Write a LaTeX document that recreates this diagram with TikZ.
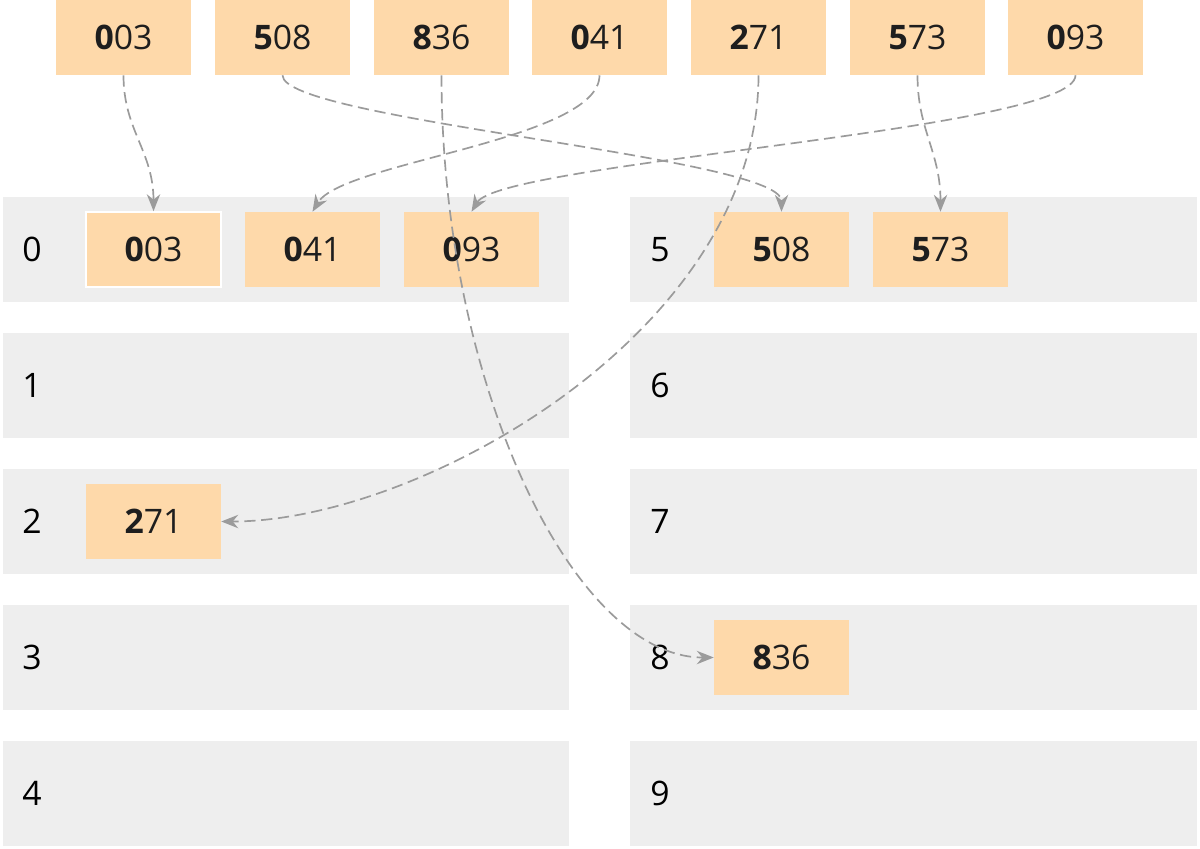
\documentclass[tikz,border=0pt]{standalone}
\usepackage{fontspec}
\setmainfont{Open Sans}
\usepackage{tikz}
\usetikzlibrary{arrows.meta, positioning, calc}
\definecolor{peach}{RGB}{254,217,170}
\definecolor{bucketgray}{RGB}{238,238,238}
\definecolor{linkgray}{RGB}{155,155,155}
\definecolor{txt}{RGB}{30,30,30}
\tikzset{>={Stealth[length=12pt,width=9.5pt]}}
\tikzset{
	key/.style={fill=peach, minimum width=3.375cm, minimum height=1.875cm, inner sep=0pt, text=txt, font=\fontsize{24}{28}\selectfont},
	bucket/.style={fill=bucketgray, minimum width=14.15cm, minimum height=2.625cm, inner sep=0pt},
	digit/.style={text=black, font=\fontsize{24}{28}\selectfont},
	link/.style={linkgray, line width=1.2pt, dash pattern=on 8pt off 4pt, ->}
}

\begin{document}
\begin{tikzpicture}[x=0.025cm, y=-0.025cm]

	\useasboundingbox (0,0) rectangle (1200,848);

	% buckets
	\foreach \i in {0,...,4}{
		\node[bucket] (left\i) at (286,{249.5+136*\i}) {};
		\node[digit] (lab\i) at (32,{249.5+136*\i}) {\i};
	}
	\foreach \i [evaluate=\i as \j using int(\i+5)] in {0,...,4}{
		\node[bucket] (right\i) at (913.5,{249.5+136*\i}) {};
		\node[digit] (lab\j) at (660,{249.5+136*\i}) {\j};
	}

	% input
	\node[key] (in003) at (123.5,37.5) {\textbf{0}03};
	\node[key] (in508) at (282.5,37.5) {\textbf{5}08};
	\node[key] (in836) at (441.5,37.5) {\textbf{8}36};
	\node[key] (in041) at (599.5,37.5) {\textbf{0}41};
	\node[key] (in271) at (758.5,37.5) {\textbf{2}71};
	\node[key] (in573) at (917.5,37.5) {\textbf{5}73};
	\node[key] (in093) at (1075.5,37.5) {\textbf{0}93};

	% sorted into buckets
	\node[key, draw=white, line width=1.2pt] (out003) at (153.5,249.5) {\textbf{0}03};
	\node[key] (out041) at (312.5,249.5) {\textbf{0}41};
	\node[key] (out093) at (471.5,249.5) {\textbf{0}93};
	\node[key] (out508) at (781.5,249.5) {\textbf{5}08};
	\node[key] (out573) at (940.5,249.5) {\textbf{5}73};
	\node[key] (out271) at (153.5,521.5) {\textbf{2}71};
	\node[key] (out836) at (781.5,657.5) {\textbf{8}36};

	\draw[link] (in003.south) .. controls +(0,55) and +(0,-60) .. (out003.north);
	\draw[link] (in508.south) .. controls +(0,45) and +(0,-55) .. (out508.north);
	\draw[link] (in836.south) .. controls +(0,310) and +(-140,0) .. (out836.west);
	\draw[link] (in041.south) .. controls +(0,65) and +(30,-50) .. (out041.north);
	\draw[link] (in271.south) .. controls +(0,255) and +(200,0) .. (out271.east);
	\draw[link] (in573.south) .. controls +(0,55) and +(0,-60) .. (out573.north);
	\draw[link] (in093.south) .. controls +(0,55) and +(30,-50) .. (out093.north);

\end{tikzpicture}
\end{document}
